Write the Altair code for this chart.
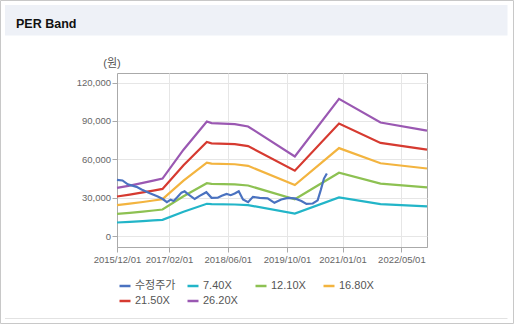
import altair as alt
import pandas as pd

# ---- data ----
eps_dates = ["2015-12-01", "2016-03-15", "2016-07-01", "2016-09-25", "2016-12-10",
             "2017-06-01", "2017-12-10", "2018-01-18", "2018-07-28", "2018-11-15",
             "2019-12-05", "2020-12-03", "2021-11-10", "2022-11-28"]
eps_values = [1440, 1508, 1588, 1657, 1718,
              2578, 3420, 3372, 3343, 3271,
              2378, 4095, 3389, 3145]

multiples = [7.40, 12.10, 16.80, 21.50, 26.20]
band_names = ["7.40X", "12.10X", "16.80X", "21.50X", "26.20X"]

price_dates = ["2015-12-01", "2016-01-15", "2016-02-28", "2016-05-10", "2016-06-20",
               "2016-08-28", "2016-11-01", "2016-12-12", "2017-01-15", "2017-02-15",
               "2017-03-12", "2017-04-12", "2017-05-15", "2017-06-10", "2017-07-05",
               "2017-09-01", "2017-10-12", "2017-12-06", "2018-01-18", "2018-03-10",
               "2018-04-12", "2018-05-22", "2018-06-25", "2018-07-28", "2018-08-30",
               "2018-10-04", "2018-11-15", "2018-12-25", "2019-02-18", "2019-04-25",
               "2019-06-20", "2019-08-15", "2019-10-10", "2019-12-05", "2020-01-28",
               "2020-03-10", "2020-05-01", "2020-06-10", "2020-07-06", "2020-08-01",
               "2020-08-25"]
price_values = [44000, 43500, 40500, 38500, 36500,
                33500, 31000, 29000, 26500, 28500,
                27500, 30500, 34000, 35000, 33000,
                29000, 31500, 34300, 29900, 30000,
                31500, 33000, 32000, 33300, 35100,
                28600, 26500, 30700, 29900, 29500,
                26000, 28600, 29900, 29500, 27500,
                25200, 25500, 28000, 36000, 45000,
                49000]

series_order = ["수정주가"] + band_names
series_colors = ["#4a72c0", "#22b5c8", "#8dc152", "#f3b43f", "#d63a30", "#9a58b2"]

y_ticks = [0, 30000, 60000, 90000, 120000]
x_ticks = [(2015, 12, 1), (2017, 2, 1), (2018, 6, 1), (2019, 10, 1), (2021, 1, 1), (2022, 5, 1)]

# ---- tables ----
rows = []
for name, m in zip(band_names, multiples):
    for d, e in zip(eps_dates, eps_values):
        rows.append({"series": name, "date": d + "T00:00:00", "value": round(m * e)})
bands = pd.DataFrame(rows)
price = pd.DataFrame({"series": "수정주가",
                      "date": [d + "T00:00:00" for d in price_dates],
                      "value": price_values})

FONT = "Liberation Sans, Noto Sans CJK KR, sans-serif"

color = alt.Color(
    "series:N",
    scale=alt.Scale(domain=series_order, range=series_colors),
    sort=series_order,
    legend=alt.Legend(
        title=None, orient="none", legendX=1, legendY=206, direction="horizontal",
        columns=4, gridAlign="all", columnPadding=6, rowPadding=3, padding=0,
        symbolType="stroke", symbolSize=121, symbolStrokeWidth=2.5,
        labelFont=FONT, labelFontSize=11, labelColor="#555555", labelOffset=3,
    ),
)

x_enc = alt.X(
    "date:T",
    scale=alt.Scale(domain=[alt.DateTime(year=2015, month=12, date=1),
                            alt.DateTime(year=2022, month=11, date=28)], nice=False),
    axis=alt.Axis(
        values=[alt.DateTime(year=y, month=mo, date=d) for y, mo, d in x_ticks],
        format="%Y/%m/%d", title=None, labelFont=FONT, labelFontSize=9.5,
        labelColor="#666666", tickSize=5, labelPadding=2, domainColor="#aaaaaa",
        tickColor="#aaaaaa", gridColor="#e6e6e6", labelFlush=False,
    ),
)
y_enc = alt.Y(
    "value:Q",
    scale=alt.Scale(domain=[-8500, 127500], nice=False, zero=False),
    axis=alt.Axis(
        values=y_ticks, format=",d", title="(원)", titleAngle=0, titleX=-5.5, titleY=-10,
        titleAlign="center", titleBaseline="middle", titleFont=FONT, titleFontSize=11,
        titleFontWeight="normal", titleColor="#555555",
        labelFont=FONT, labelFontSize=9.5, labelColor="#666666", tickSize=5,
        labelPadding=1.5, domainColor="#aaaaaa", tickColor="#aaaaaa", gridColor="#e6e6e6",
    ),
)

one = pd.DataFrame({"a": [0]})
frame = alt.Chart(one).mark_rect(fill="transparent", stroke="#c8c8c8", strokeWidth=1).encode(
    x=alt.value(-116.5), x2=alt.value(396.5), y=alt.value(-72.5), y2=alt.value(250.5))
header = alt.Chart(one).mark_rect(fill="#eef1f7").encode(
    x=alt.value(-112), x2=alt.value(390.5), y=alt.value(-68), y2=alt.value(-37.5))
bottom_line = alt.Chart(one).mark_rule(color="#e2e2e2").encode(
    x=alt.value(-112), x2=alt.value(390.5), y=alt.value(245.5))
title = alt.Chart(one).mark_text(
    text="PER Band", font=FONT, fontSize=12.5, fontWeight="bold", color="#111111",
    align="left", baseline="alphabetic").encode(x=alt.value(-101), y=alt.value(-45.5))

band_lines = alt.Chart(bands).mark_line(strokeWidth=2.2).encode(
    x=x_enc, y=y_enc, color=color, detail="series:N")
price_line = alt.Chart(price).mark_line(strokeWidth=2.2).encode(
    x=x_enc, y=y_enc, color=color)

chart = alt.layer(frame, header, bottom_line, title, band_lines, price_line).properties(
    width=310, height=174,
    autosize=alt.AutoSizeParams(type="none"),
    padding={"left": 117, "top": 73, "right": 89, "bottom": 78},
    background="white",
).configure_view(stroke="#aaaaaa", strokeWidth=1).configure_axis(grid=True)

chart.save("out.html", embed_options={"renderer": "svg", "actions": False})
